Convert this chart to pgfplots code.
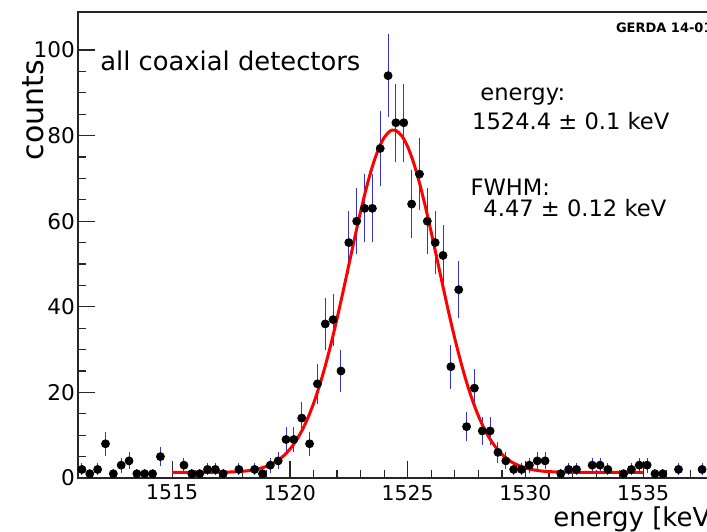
\documentclass[border=0pt]{standalone}
\usepackage{pgfplots}
\pgfplotsset{compat=1.18}
\usepackage{fontspec}
\setmainfont{DejaVu Sans}
\definecolor{errblue}{RGB}{50,50,210}
\definecolor{fitred}{RGB}{255,0,0}
\begin{document}
\begin{tikzpicture}
\begin{axis}[
  x=11.775pt, y=2.14pt,
  xmin=1511, xmax=1541, ymin=0, ymax=108.9,
  axis line style={line width=0.65pt, black!85},
  tick pos=left, tick align=inside,
  xtick={1515,1520,1525,1530,1535,1540},
  xticklabels={1515,1520,1525,1530,1535,{}},
  ytick={0,20,40,60,80,100},
  minor x tick num=4, minor y tick num=3,
  major tick length=8.5pt, minor tick length=4pt,
  every tick/.style={black!85, line width=0.6pt},
  xticklabel style={font=\fontsize{10.2}{12}\selectfont},
  yticklabel style={font=\fontsize{10.8}{13}\selectfont, xshift=2pt},
  /pgf/number format/assume math mode=true,
  /pgf/number format/1000 sep={},
  clip=false,
]
\coordinate (bl) at (rel axis cs:0,0);

\addplot[only marks, mark=*, mark size=2pt, black,
  error bars/.cd, y dir=both, y explicit,
  error bar style={errblue, line width=0.5pt}, error mark=none]
  table[x=x, y=y, y error=e] {
x y e
1511.167 2 1.414
1511.5 1 1
1511.833 2 1.414
1512.167 8 2.828
1512.5 1 1
1512.833 3 1.732
1513.167 4 2
1513.5 1 1
1513.833 1 1
1514.167 1 1
1514.5 5 2.236
1515.5 3 1.732
1515.833 1 1
1516.167 1 1
1516.5 2 1.414
1516.833 2 1.414
1517.167 1 1
1517.833 2 1.414
1518.5 2 1.414
1518.833 1 1
1519.167 3 1.732
1519.5 4 2
1519.833 9 3
1520.167 9 3
1520.5 14 3.742
1520.833 8 2.828
1521.167 22 4.690
1521.5 36 6
1521.833 37 6.083
1522.167 25 5
1522.5 55 7.416
1522.833 60 7.746
1523.167 63 7.937
1523.5 63 7.937
1523.833 77 8.775
1524.167 94 9.695
1524.5 83 9.110
1524.833 83 9.110
1525.167 64 8
1525.5 71 8.426
1525.833 60 7.746
1526.167 55 7.416
1526.5 52 7.211
1526.833 26 5.099
1527.167 44 6.633
1527.5 12 3.464
1527.833 21 4.583
1528.167 11 3.317
1528.5 11 3.317
1528.833 6 2.449
1529.167 4 2
1529.5 2 1.414
1529.833 2 1.414
1530.167 3 1.732
1530.5 4 2
1530.833 4 2
1531.5 1 1
1531.833 2 1.414
1532.167 2 1.414
1532.833 3 1.732
1533.167 3 1.732
1533.5 2 1.414
1534.167 1 1
1534.5 2 1.414
1534.833 3 1.732
1535.167 3 1.732
1535.5 1 1
1535.833 1 1
1536.5 2 1.414
1537.5 2 1.414
};

\addplot[fitred, line width=1.5pt, smooth, no marks] coordinates {
(1515,1.30) (1516,1.30) (1517,1.34) (1517.5,1.41) (1518,1.57) (1518.5,1.94)
(1519,2.70) (1519.25,3.32) (1519.5,4.16) (1519.75,5.28) (1520,6.75)
(1520.25,8.63) (1520.5,10.99) (1520.75,13.89) (1521,17.38) (1521.25,21.49)
(1521.5,26.20) (1521.75,31.49) (1522,37.27) (1522.25,43.42) (1522.5,49.77)
(1522.75,56.12) (1523,62.25) (1523.25,67.89) (1523.5,72.79) (1523.75,76.74)
(1524,79.54) (1524.25,81.05) (1524.4,81.30) (1524.5,81.19) (1524.75,79.95)
(1525,77.40) (1525.25,73.67) (1525.5,68.93) (1525.75,63.42) (1526,57.38)
(1526.25,51.05) (1526.5,44.68) (1526.75,38.47) (1527,32.61) (1527.25,27.21)
(1527.5,22.38) (1527.75,18.15) (1528,14.54) (1528.25,11.52) (1528.5,9.06)
(1528.75,7.09) (1529,5.54) (1529.25,4.36) (1529.5,3.46) (1530,2.33)
(1530.5,1.76) (1531,1.49) (1532,1.33) (1533,1.30) (1535,1.30)
};

\node[anchor=base west, font=\fontsize{12.9}{15}\selectfont, inner sep=0pt] at (axis cs:1511.93,95.1) {all coaxial detectors};
\node[anchor=base west, font=\fontsize{11.3}{13}\selectfont, inner sep=0pt] at (axis cs:1528.07,88.3) {energy:};
\node[anchor=base west, font=\fontsize{11.3}{13}\selectfont, inner sep=0pt] at (axis cs:1527.72,81.5) {1524.4 ± 0.1 keV};
\node[anchor=base west, font=\fontsize{11.3}{13}\selectfont, inner sep=0pt] at (axis cs:1527.65,66.1) {FWHM:};
\node[anchor=base west, font=\fontsize{11.3}{13}\selectfont, inner sep=0pt] at (axis cs:1528.2,61.2) {4.47 ± 0.12 keV};
\node[anchor=base west, font=\bfseries\fontsize{6.5}{8}\selectfont, inner sep=0pt] at (axis cs:1533.83,104.1) {GERDA 14-01};
\node[anchor=base west, font=\fontsize{13}{15}\selectfont, inner sep=0pt] at (axis cs:1531.17,-11.3) {energy [keV]};
\node[rotate=90, anchor=center, inner sep=0pt, font=\fontsize{15}{17}\selectfont] at (axis cs:1509.1,86.0) {counts};
\end{axis}
\pgfresetboundingbox
\path[use as bounding box] ([shift={(-39pt,-26.5pt)}]bl) rectangle ([shift={(314.5pt,239pt)}]bl);
\end{tikzpicture}
\end{document}
